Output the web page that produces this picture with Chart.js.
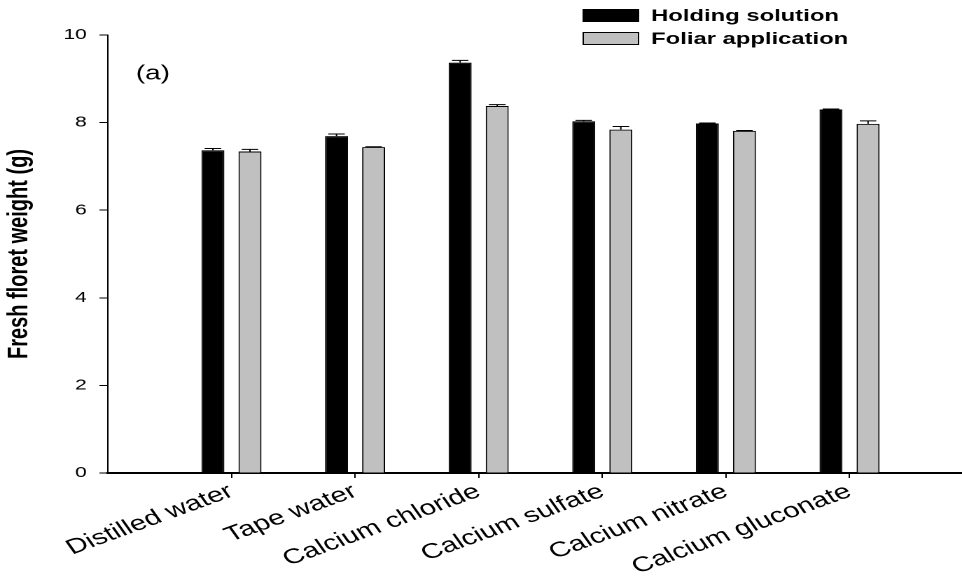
<!DOCTYPE html>
<html>
<head>
<meta charset="utf-8">
<script src="https://cdn.jsdelivr.net/npm/chart.js@4.4.1/dist/chart.umd.min.js"></script>
<style>
  body { margin: 0; background: #fff; }
  /* the original figure is stretched sideways, so the canvas is drawn narrow and widened by CSS */
  #chart { display: block; width: 962px; height: 577px; }
</style>
</head>
<body>
<canvas id="chart" width="687" height="577" style="width:962px;height:577px"></canvas>
<script>
const categories = ['Distilled water', 'Tape water', 'Calcium chloride', 'Calcium sulfate', 'Calcium nitrate', 'Calcium gluconate'];
const holding = [7.37, 7.69, 9.37, 8.03, 7.98, 8.30];
const holdingErr = [0.04, 0.05, 0.05, 0.02, 0.01, 0.01];
const foliar = [7.34, 7.44, 8.38, 7.84, 7.81, 7.97];
const foliarErr = [0.05, 0.01, 0.03, 0.07, 0.01, 0.07];
const yTicks = [0, 2, 4, 6, 8, 10];
const seriesNames = ['Holding solution', 'Foliar application'];
const panelLabel = '(a)';

const toPoints = vals => vals.map((v, i) => ({ x: i + 1, y: v }));

Chart.defaults.font.family = '"Liberation Sans", Arial, sans-serif';
Chart.defaults.color = '#000';

// upper error bars only, as in the figure
const errorBars = {
    id: 'errorBars',
    afterDatasetsDraw(chart) {
        const ctx = chart.ctx;
        const y = chart.scales.y;
        const errs = [holdingErr, foliarErr];
        ctx.save();
        ctx.strokeStyle = '#000';
        ctx.lineWidth = 1;
        chart.data.datasets.forEach((ds, d) => {
            chart.getDatasetMeta(d).data.forEach((bar, i) => {
                const top = y.getPixelForValue(ds.data[i].y + errs[d][i]);
                const half = bar.width * 0.36;
                ctx.beginPath();
                ctx.moveTo(bar.x, bar.y);
                ctx.lineTo(bar.x, top);
                ctx.moveTo(bar.x - half, top);
                ctx.lineTo(bar.x + half, top);
                ctx.stroke();
            });
        });
        ctx.restore();
    }
};

const legendAndLabel = {
    id: 'legendAndLabel',
    afterDraw(chart) {
        const ctx = chart.ctx;
        ctx.save();
        const rows = [15.5, 38.5];
        chart.data.datasets.forEach((ds, d) => {
            ctx.fillStyle = ds.backgroundColor;
            ctx.fillRect(416.5, rows[d] - 6, 39.5, 12);
            ctx.strokeStyle = '#000';
            ctx.lineWidth = 1;
            ctx.strokeRect(416.5, rows[d] - 6, 39.5, 12);
            ctx.fillStyle = '#000';
            ctx.font = 'bold 17px "Liberation Sans", Arial, sans-serif';
            ctx.textBaseline = 'middle';
            ctx.fillText(ds.label, 465, rows[d] + 1);
        });
        ctx.font = '20px "Liberation Sans", Arial, sans-serif';
        ctx.textBaseline = 'middle';
        ctx.fillText(panelLabel, 97, 74);
        ctx.restore();
    }
};

new Chart(document.getElementById('chart'), {
    type: 'bar',
    data: {
        datasets: [{
            label: seriesNames[0],
            data: toPoints(holding),
            backgroundColor: '#000000',
            borderColor: '#000000',
            borderWidth: 1
        }, {
            label: seriesNames[1],
            data: toPoints(foliar),
            backgroundColor: '#c0c0c0',
            borderColor: '#000000',
            borderWidth: 1
        }]
    },
    options: {
        responsive: false,
        devicePixelRatio: 2,
        animation: false,
        categoryPercentage: 0.6,
        barPercentage: 0.62,
        layout: { padding: { top: 35, right: 0, left: 0, bottom: 0 } },
        scales: {
            x: {
                type: 'linear',
                offset: false,
                min: 0,
                max: 6.91,
                afterBuildTicks: scale => {
                    scale.ticks = categories.map((c, i) => ({ value: i + 1 }));
                },
                afterFit: scale => { scale.height = 104; },
                grid: { offset: false, drawOnChartArea: false, tickLength: 5, tickColor: '#000', tickWidth: 1 },
                border: { color: '#000', width: 2 },
                ticks: {
                    autoSkip: false,
                    minRotation: 27,
                    maxRotation: 27,
                    padding: 1,
                    font: { size: 21 },
                    callback: value => categories[value - 1]
                }
            },
            y: {
                min: 0,
                max: 10,
                afterBuildTicks: scale => {
                    scale.ticks = yTicks.map(v => ({ value: v }));
                },
                afterFit: scale => { scale.width = 77; },
                grid: { drawOnChartArea: false, tickLength: 6, tickColor: '#000', tickWidth: 1 },
                border: { color: '#000', width: 1 },
                ticks: { padding: 9, font: { size: 15 } },
                title: {
                    display: true,
                    text: 'Fresh floret weight (g)',
                    font: { size: 20, weight: 'bold' },
                    padding: { top: 2, bottom: 0 }
                }
            }
        },
        plugins: {
            legend: { display: false },
            tooltip: { enabled: false }
        }
    },
    plugins: [errorBars, legendAndLabel]
});
</script>
</body>
</html>
